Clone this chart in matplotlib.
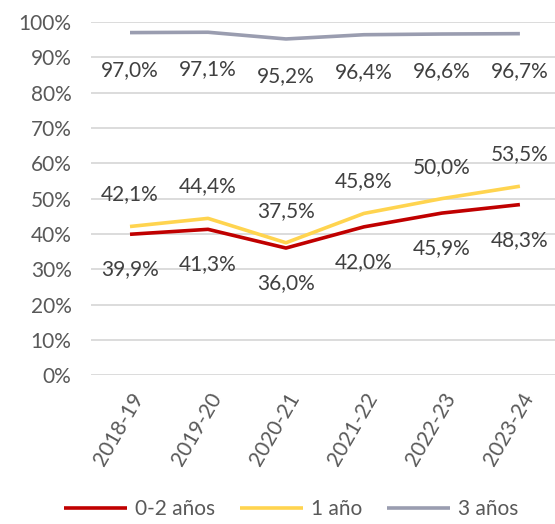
import matplotlib.pyplot as plt
from matplotlib.ticker import FuncFormatter

plt.rcParams['font.family'] = ['Lato', 'DejaVu Sans']

cursos = ["2018-19", "2019-20", "2020-21", "2021-22", "2022-23", "2023-24"]
edad_0_2 = [39.9, 41.3, 36.0, 42.0, 45.9, 48.3]
edad_1 = [42.1, 44.4, 37.5, 45.8, 50.0, 53.5]
edad_3 = [97.0, 97.1, 95.2, 96.4, 96.6, 96.7]

fig = plt.figure(figsize=(5.55, 5.24), dpi=100)
ax = fig.add_axes([0.164, 0.284, 0.843, 0.674])

x = range(len(cursos))
series = [
    ("0-2 años", edad_0_2, "#C00000", 35),
    ("1 año", edad_1, "#FFD44F", -32),
    ("3 años", edad_3, "#9A9DB0", 37),
]
for name, vals, col, off in series:
    ax.plot(x, vals, color=col, lw=2.6, label=name, solid_capstyle="butt")
    for i, v in enumerate(vals):
        ax.annotate(f"{v:.1f}%".replace(".", ","), (i, v), xytext=(0, -off),
                    textcoords="offset pixels", ha="center", va="center",
                    fontsize=15, color="#404040")

ax.set_xlim(-0.5, len(cursos) - 0.5)
ax.set_ylim(0, 100)
ax.set_yticks(range(0, 101, 10))
ax.yaxis.set_major_formatter(FuncFormatter(lambda v, p: f"{v:.0f}%"))
ax.set_xticks(list(x))
ax.set_xticklabels(cursos, rotation=60, ha="right", rotation_mode="anchor")
ax.tick_params(length=0, labelsize=15, colors="#595959")
ax.tick_params(axis="x", pad=10)
ax.tick_params(axis="y", pad=14)
ax.grid(axis="y", color="#D9D9D9", lw=1.3)
ax.set_axisbelow(True)
for s in ax.spines.values():
    s.set_visible(False)

fig.legend(loc="lower center", bbox_to_anchor=(0.525, -0.027), ncol=3, frameon=False,
           fontsize=15, labelcolor="#595959", handlelength=3.0, columnspacing=1.2,
           handletextpad=0.4)

fig.savefig("out.png", dpi=100)
